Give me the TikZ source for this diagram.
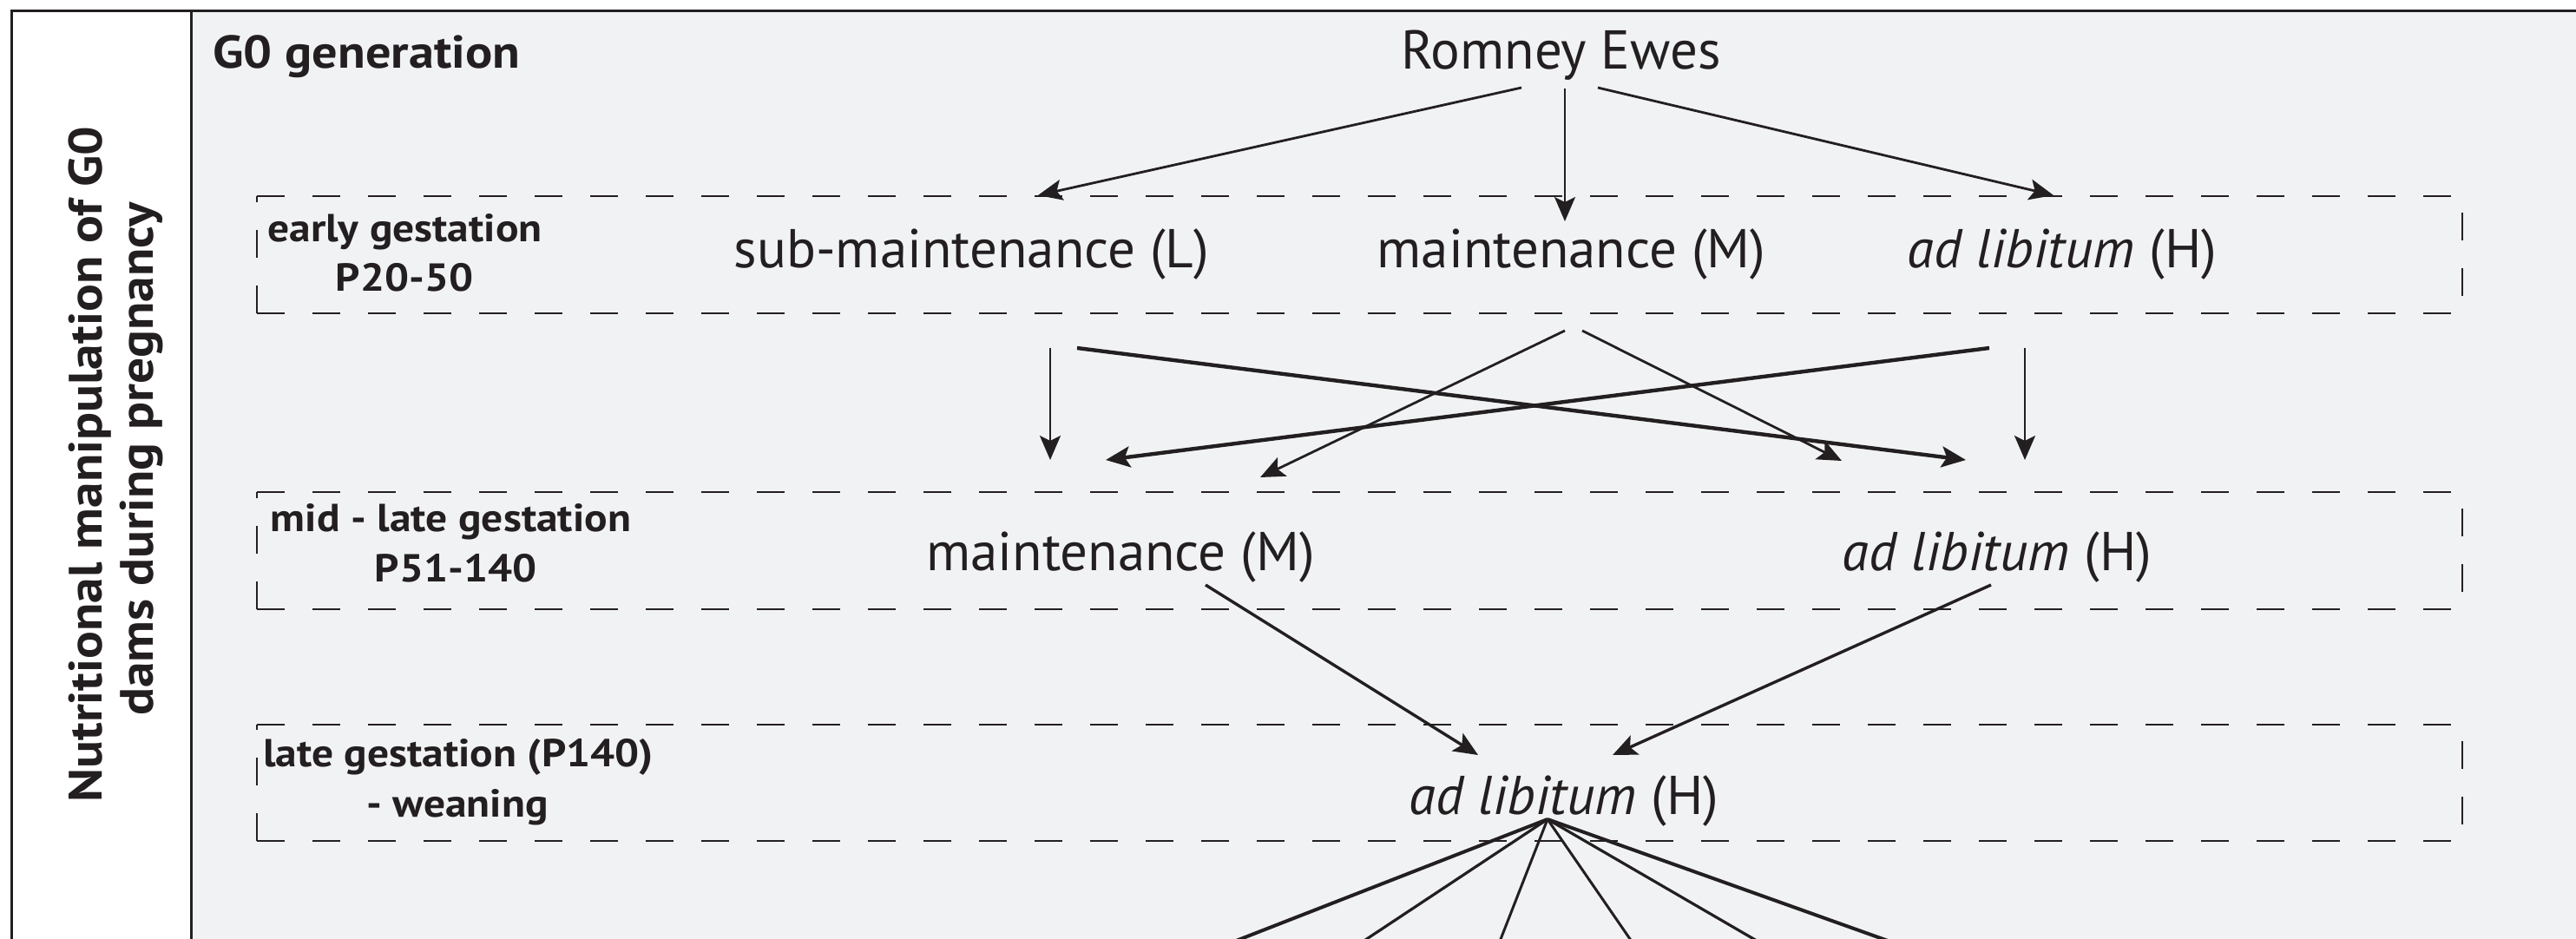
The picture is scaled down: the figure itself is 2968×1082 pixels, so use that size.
\documentclass[tikz,border=0pt]{standalone}
\usepackage{fontspec}
\setmainfont{PT Sans}
\newfontfamily\labfont{PT Sans}[FakeStretch=1.1]
\usetikzlibrary{arrows.meta}
\definecolor{ink}{HTML}{231F20}
\definecolor{panel}{HTML}{F1F2F4}
\begin{document}
\begin{tikzpicture}[x=0.5pt,y=-0.5pt,
  txt/.style={font=\fontsize{31.5}{36}\selectfont, text=ink, inner sep=0pt, anchor=base},
  lab/.style={font=\labfont\bfseries\fontsize{22.5}{26}\selectfont, text=ink, inner sep=0pt, anchor=base},
  ttl/.style={font=\labfont\bfseries\fontsize{27}{34}\selectfont, text=ink, inner sep=0pt, anchor=base, rotate=90},
  arr/.style={draw=ink, line width=1.4pt, -{Stealth[length=14pt,width=12pt,inset=3pt]}},
  thick arr/.style={arr, line width=2.2pt},
  fan/.style={draw=ink, line width=1.5pt},
  dsh/.style={draw=ink, line width=1.3pt, dash pattern=on 16pt off 16pt},
  frame/.style={draw=ink, line width=1.5pt}]
\useasboundingbox (0,0) rectangle (2968,1082);
\fill[white] (0,0) rectangle (2968,1082);
\fill[panel] (220,12) rectangle (2968,1090);
\draw[frame] (2968,12) -- (13,12) -- (13,1090);
\draw[frame] (220,12) -- (220,1090);

% rotated title
\node[ttl] (title1) at (117,535) {Nutritional manipulation of G0};
\node[ttl] (title2) at (176,529) {dams during pregnancy};

% dashed boxes
\foreach \t/\b in {226/361, 567/702, 835/969}{
  \draw[dsh] (296,\t) -- (2837,\t);
  \draw[dsh] (296,\b) -- (2837,\b);
  \draw[dsh] (296,\b) -- (296,\t);
  \draw[dsh, dash phase=22.5pt] (2837,\t) -- (2837,\b);
}

\node[lab, font=\labfont\bfseries\fontsize{26.5}{30}\selectfont, anchor=base west] (g0) at (245,78) {G0 generation};
\node[lab] (l1a) at (466.5,278) {early gestation};
\node[lab] (l1b) at (466,335) {P20-50};
\node[lab] (l2a) at (519.5,612) {mid - late gestation};
\node[lab] (l2b) at (525,670) {P51-140};
\node[lab] (l3a) at (528,883) {late gestation (P140)};
\node[lab] (l3b) at (527,941) {- weaning};

\node[txt] (romney) at (1798.5,79) {Romney Ewes};
\node[txt] (subL) at (1119.5,308) {sub-maintenance (L)};
\node[txt] (m1) at (1810.5,308) {maintenance (M)};
\node[txt] (h1) at (2376,308) {\textit{ad libitum} (H)};
\node[txt] (m2) at (1291,657) {maintenance (M)};
\node[txt] (h2) at (2301,657) {\textit{ad libitum} (H)};
\node[txt] (h3) at (1802,938) {\textit{ad libitum} (H)};

% connector end points
\coordinate (rA) at (1753,101); \coordinate (rB) at (1803,102); \coordinate (rC) at (1841,101);
\coordinate (tL) at (1196,225); \coordinate (tM) at (1803,255); \coordinate (tH) at (2366,225);
\draw[arr] (rA) -- (tL);
\draw[arr] (rB) -- (tM);
\draw[arr] (rC) -- (tH);

\coordinate (sLa) at (1210,401); \coordinate (sLb) at (1241,401);
\coordinate (sMa) at (1803,381); \coordinate (sMb) at (1823,381);
\coordinate (sHa) at (2292,401); \coordinate (sHb) at (2333,401);
\coordinate (eMa) at (1210,530); \coordinate (eMb) at (1274,530); \coordinate (eMc) at (1452,550);
\coordinate (eHa) at (2122,531); \coordinate (eHb) at (2265,530); \coordinate (eHc) at (2333,530);
\draw[arr] (sLa) -- (eMa);
\draw[thick arr] (sLb) -- (eHb);
\draw[arr] (sMa) -- (eMc);
\draw[arr] (sMb) -- (eHa);
\draw[thick arr] (sHa) -- (eMb);
\draw[arr] (sHb) -- (eHc);

\coordinate (m2s) at (1389,674); \coordinate (h2s) at (2294,674);
\coordinate (h3a) at (1703,870); \coordinate (h3b) at (1858,870);
\draw[arr, line width=1.7pt] (m2s) -- (h3a);
\draw[arr, line width=1.7pt] (h2s) -- (h3b);

% fan
\coordinate (apex) at (1783,944);
\foreach \x/\w in {1396/2.0, 1555/1.6, 1724/1.5, 1887/1.5, 2043/1.6, 2206/2.0}{
  \draw[fan, line width=\w pt] (apex) -- (\x,1095);
}
\end{tikzpicture}
\end{document}
